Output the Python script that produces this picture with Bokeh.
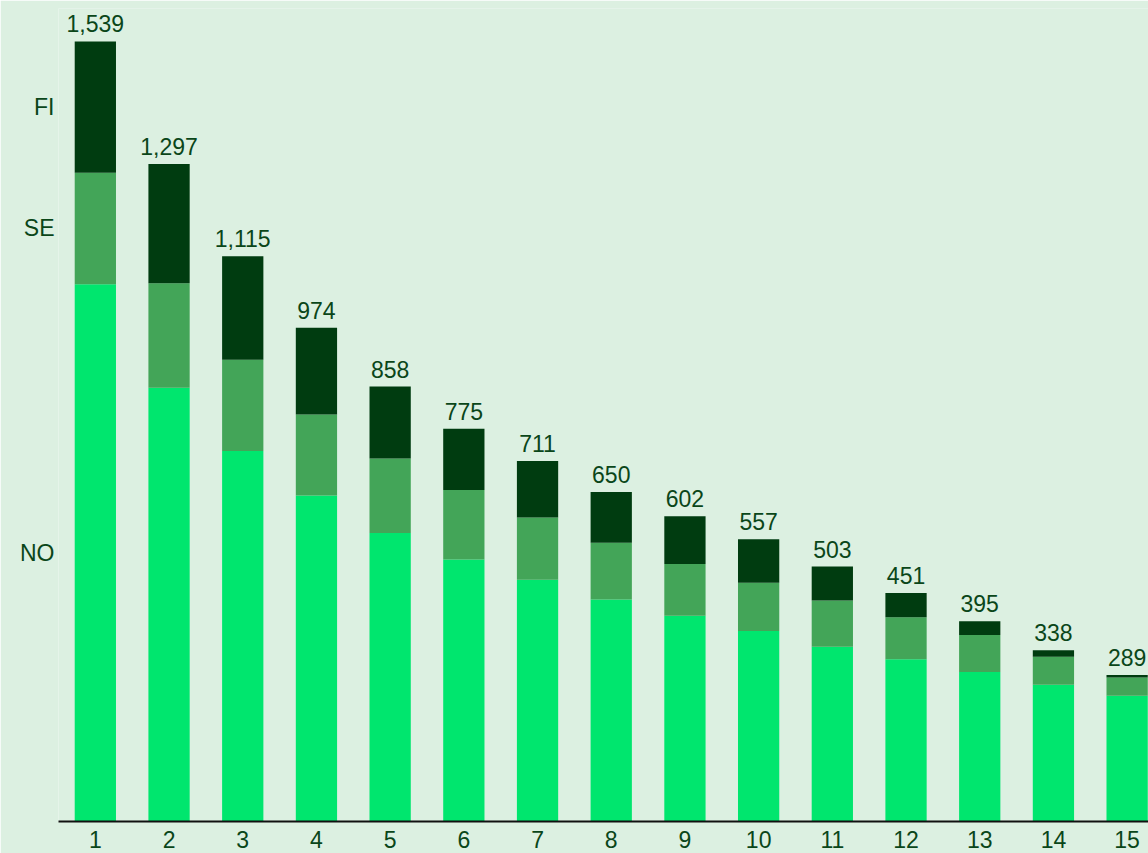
from bokeh.plotting import figure
from bokeh.models import ColumnDataSource, LabelSet, Range1d, FixedTicker
from bokeh.core.properties import value
from bokeh.embed import file_html
from bokeh.resources import INLINE

categories = [str(i) for i in range(1, 16)]
series = ["NO", "SE", "FI"]
NO = [1060, 856, 731, 643, 569, 517, 477, 438, 406, 376, 345, 320, 295, 270, 248]
SE = [220, 206, 180, 160, 147, 137, 123, 112, 102, 95, 91, 83, 73, 55, 36]
FI = [259, 235, 204, 171, 142, 121, 111, 100, 94, 86, 67, 48, 27, 13, 5]
colors = ["#00e66e", "#43a558", "#003c10"]

BG = "#dcf0e1"
TXT = "#0a4619"
FONT = "Liberation Sans"

xs = list(range(1, 16))
totals = [a + b + c for a, b, c in zip(NO, SE, FI)]

src = ColumnDataSource(dict(
    x=xs, NO=NO, SE=SE, FI=FI,
    total=totals, label=[f"{t:,}" for t in totals],
))

p = figure(width=1148, height=853, output_backend="svg", toolbar_location=None,
           x_range=Range1d(0.5, 15.29), y_range=Range1d(0, 1604),
           min_border_left=58, min_border_right=0, min_border_top=8, min_border_bottom=32,
           background_fill_color=BG, border_fill_color=BG, outline_line_color=None)

p.vbar_stack(series, x="x", width=0.56, source=src, color=colors, line_color=None)

labels = LabelSet(x="x", y="total", text="label", source=src, text_align="center",
                  text_baseline="alphabetic", y_offset=9, text_font=value(FONT),
                  text_font_size="23px", text_color=TXT)
p.add_layout(labels)

# series names: y-axis ticks at the midpoints of the first bar's segments
first = [NO[0], SE[0], FI[0]]
mids = []
base = 0
for v in first:
    mids.append(base + v / 2)
    base += v
p.yaxis.ticker = FixedTicker(ticks=mids)
p.yaxis.major_label_overrides = {m: s for m, s in zip(mids, series)}
p.yaxis.axis_line_color = None
p.yaxis.major_tick_line_color = None
p.yaxis.minor_tick_line_color = None
p.yaxis.major_tick_out = 0
p.yaxis.major_tick_in = 0
p.yaxis.major_label_standoff = 4
p.yaxis.major_label_text_font = FONT
p.yaxis.major_label_text_font_size = "23px"
p.yaxis.major_label_text_color = TXT

p.xgrid.visible = False
p.ygrid.visible = False
p.xaxis.ticker = FixedTicker(ticks=xs)
p.xaxis.major_label_overrides = {i: c for i, c in zip(xs, categories)}
p.xaxis.axis_line_color = "#111111"
p.xaxis.axis_line_width = 2
p.xaxis.major_tick_line_color = None
p.xaxis.minor_tick_line_color = None
p.xaxis.major_tick_out = 0
p.xaxis.major_tick_in = 0
p.xaxis.major_label_standoff = 9
p.xaxis.major_label_text_font = FONT
p.xaxis.major_label_text_font_size = "23px"
p.xaxis.major_label_text_color = TXT

open("out.html", "w").write(file_html(p, INLINE))
